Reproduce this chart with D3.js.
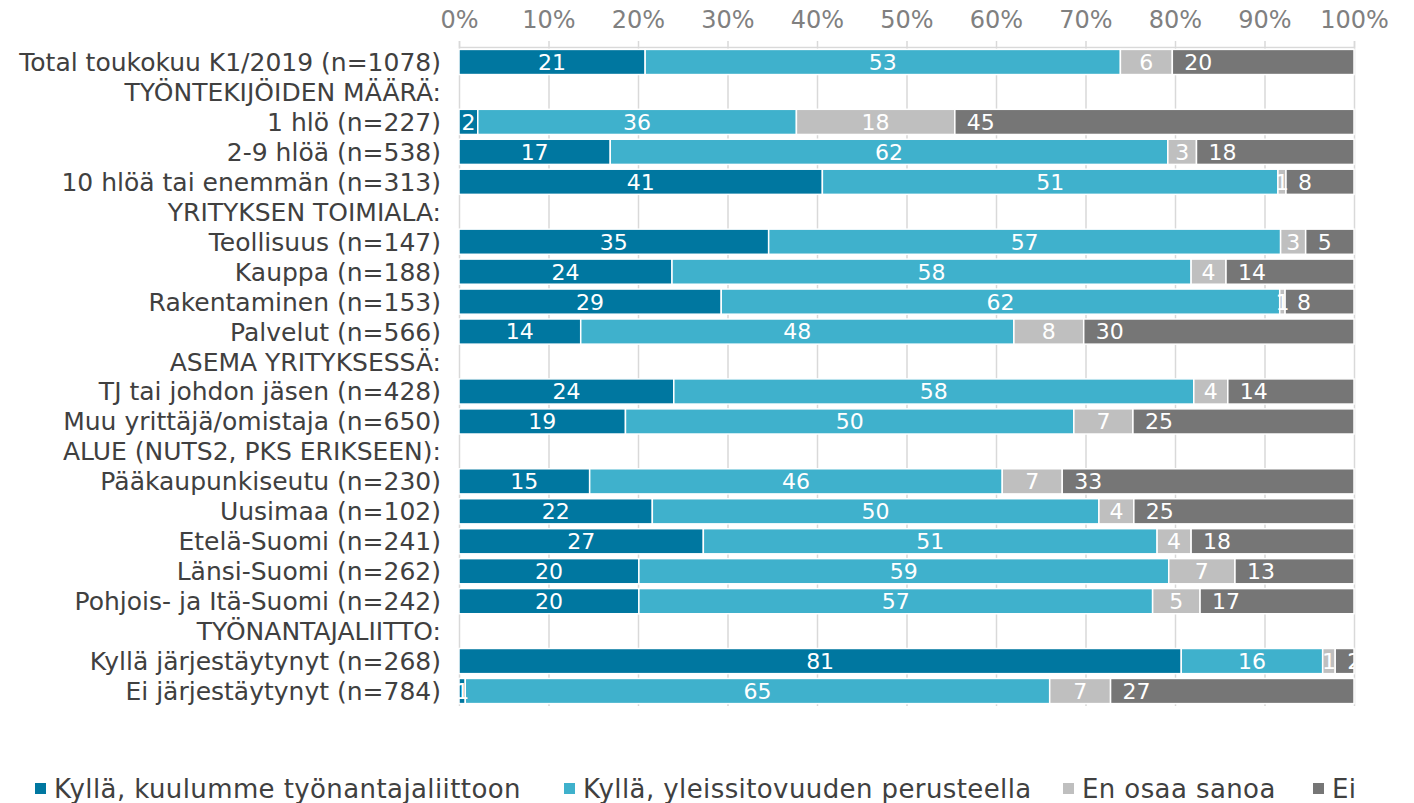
<!DOCTYPE html>
<html>
<head>
<meta charset="utf-8">
<script src="https://cdn.jsdelivr.net/npm/d3@7"></script>
<style>
body { margin: 0; background: #fff; }
svg { display: block; font-family: 'DejaVu Sans', Verdana, sans-serif; }
</style>
</head>
<body>
<svg width="1414" height="803"></svg>
<script>
var categories = [
	'Total toukokuu K1/2019 (n=1078)',
	'TYÖNTEKIJÖIDEN MÄÄRÄ:',
	'1 hlö (n=227)',
	'2-9 hlöä (n=538)',
	'10 hlöä tai enemmän (n=313)',
	'YRITYKSEN TOIMIALA:',
	'Teollisuus (n=147)',
	'Kauppa (n=188)',
	'Rakentaminen (n=153)',
	'Palvelut (n=566)',
	'ASEMA YRITYKSESSÄ:',
	'TJ tai johdon jäsen (n=428)',
	'Muu yrittäjä/omistaja (n=650)',
	'ALUE (NUTS2, PKS ERIKSEEN):',
	'Pääkaupunkiseutu (n=230)',
	'Uusimaa (n=102)',
	'Etelä-Suomi (n=241)',
	'Länsi-Suomi (n=262)',
	'Pohjois- ja Itä-Suomi (n=242)',
	'TYÖNANTAJALIITTO:',
	'Kyllä järjestäytynyt (n=268)',
	'Ei järjestäytynyt (n=784)'
];

var seriesNames = ['Kyllä, kuulumme työnantajaliittoon', 'Kyllä, yleissitovuuden perusteella', 'En osaa sanoa', 'Ei'];
var seriesColours = ['#0077a0', '#3fb1cc', '#bfbfbf', '#767676'];

// null = header row without a bar
var kuulumme      = [20.8, null, 2.1, 16.9, 40.6, null, 34.6, 23.8, 29.3, 13.6, null, 24.0, 18.6, null, 14.6, 21.6, 27.3, 20.1, 20.1, null, 80.7, 0.7];
var yleissitovuus = [53.1, null, 35.6, 62.3, 50.9, null, 57.2, 58.0, 62.4, 48.4, null, 58.1, 50.1, null, 46.1, 49.9, 50.7, 59.2, 57.4, null, 15.8, 65.3];
var enOsaa        = [5.8, null, 17.7, 3.2, 0.9, null, 2.8, 3.9, 0.6, 7.8, null, 3.8, 6.6, null, 6.7, 3.9, 3.8, 7.4, 5.3, null, 1.4, 6.8];
var ei            = [20.3, null, 44.6, 17.6, 7.6, null, 5.4, 14.3, 7.7, 30.2, null, 14.1, 24.7, null, 32.6, 24.6, 18.2, 13.3, 17.2, null, 2.1, 27.2];

var tickValues = [0, 10, 20, 30, 40, 50, 60, 70, 80, 90, 100];

var svg = d3.select('svg');
var plotLeft = 459;
var plotRight = 1354;
var plotTop = 47;
var plotBottom = 706;

var x = d3.scaleLinear().domain([0, 100]).range([plotLeft, plotRight]);
var y = d3.scaleBand().domain(categories).range([plotTop, plotBottom]).paddingInner(0.16).paddingOuter(0.08);

function buildRows()
{
	var rows = [];
	var series = [kuulumme, yleissitovuus, enOsaa, ei];
	for (var i = 0; i < categories.length; i++)
	{
		if (kuulumme[i] === null)
		{
			continue;
		}
		var start = 0;
		for (var s = 0; s < series.length; s++)
		{
			var v = series[s][i];
			rows.push({cat: categories[i], series: s, x0: start, x1: start + v, value: v});
			start += v;
		}
	}
	return rows;
}

function drawGrid()
{
	var g = svg.append('g');
	g.selectAll('line.grid').data(tickValues).enter().append('line')
		.attr('class', 'grid')
		.attr('x1', d => x(d) + 0.5).attr('x2', d => x(d) + 0.5)
		.attr('y1', plotTop).attr('y2', plotBottom)
		.attr('stroke', '#d9d9d9').attr('stroke-width', 1.5);

	var axis = d3.axisTop(x).tickValues(tickValues).tickFormat(d => d + '%').tickSize(6).tickPadding(13);
	var a = svg.append('g').attr('transform', 'translate(0,' + plotTop + ')').call(axis);
	a.select('.domain').attr('stroke', '#d9d9d9').attr('stroke-width', 1.5);
	a.selectAll('.tick line').attr('stroke', '#d9d9d9').attr('stroke-width', 1.5);
	a.selectAll('.tick text').attr('fill', '#808080').attr('font-size', 24)
		.attr('font-family', "'DejaVu Sans', Verdana, sans-serif");
}

function drawBars()
{
	var rows = buildRows();
	svg.append('clipPath').attr('id', 'plot-clip').append('rect')
		.attr('x', plotLeft).attr('y', 0).attr('width', plotRight - plotLeft).attr('height', 803);

	var g = svg.append('g');
	g.selectAll('rect').data(rows).enter().append('rect')
		.attr('x', d => x(d.x0))
		.attr('y', d => y(d.cat))
		.attr('width', d => x(d.x1) - x(d.x0))
		.attr('height', y.bandwidth())
		.attr('fill', d => seriesColours[d.series])
		.attr('stroke', '#fff').attr('stroke-width', 1.5);

	// last series labels sit at the start of the bar, the others in the middle
	g.append('g').attr('clip-path', 'url(#plot-clip)')
		.selectAll('text').data(rows).enter().append('text')
		.attr('x', d => d.series == 3 ? x(d.x0) + 12 : (x(d.x0) + x(d.x1)) / 2)
		.attr('y', d => y(d.cat) + y.bandwidth() / 2)
		.attr('dy', '0.36em')
		.attr('text-anchor', d => d.series == 3 ? 'start' : 'middle')
		.attr('fill', '#fff')
		.attr('font-size', 22)
		.text(d => Math.round(d.value));
}

function drawCategoryLabels()
{
	svg.append('g').selectAll('text').data(categories).enter().append('text')
		.attr('x', plotLeft - 18)
		.attr('y', d => y(d) + y.bandwidth() / 2)
		.attr('dy', '0.36em')
		.attr('text-anchor', 'end')
		.attr('fill', '#404040')
		.attr('font-size', 25)
		.text(d => d);
}

function drawLegend()
{
	var positions = [35, 564, 1063, 1313];
	var g = svg.append('g').attr('transform', 'translate(0,788)');
	var items = g.selectAll('g').data(seriesNames).enter().append('g')
		.attr('transform', (d, i) => 'translate(' + positions[i] + ',0)');
	items.append('rect').attr('x', 0).attr('y', -5).attr('width', 11).attr('height', 11)
		.attr('fill', (d, i) => seriesColours[i]);
	items.append('text').attr('x', 19).attr('y', 1).attr('dy', '0.36em')
		.attr('fill', '#404040').attr('font-size', 26).attr('letter-spacing', 0.4)
		.text(d => d);
}

drawGrid();
drawBars();
drawCategoryLabels();
drawLegend();
</script>
</body>
</html>
